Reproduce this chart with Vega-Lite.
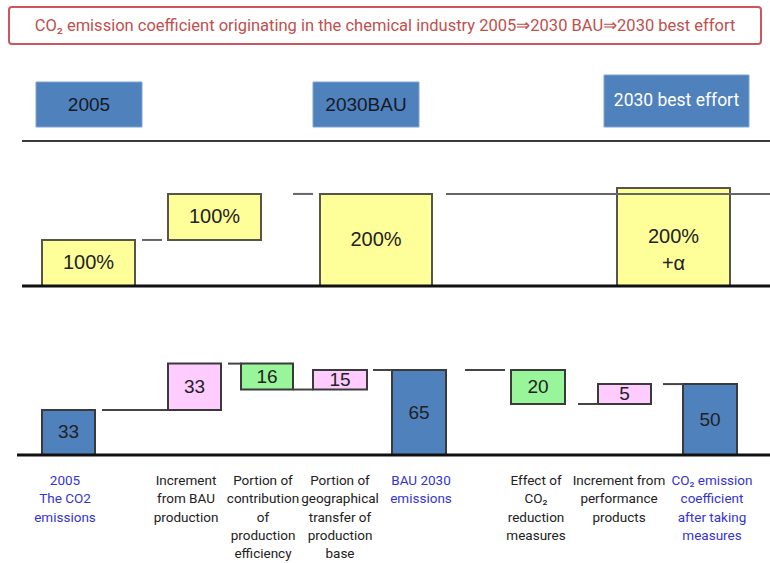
{
  "$schema": "https://vega.github.io/schema/vega-lite/v6.json",
  "background": "white",
  "padding": {"top": 6, "left": 0, "right": 0, "bottom": 0},
  "bounds": "flush",
  "spacing": 0,
  "center": true,
  "config": {"view": {"stroke": null}, "font": "Liberation Sans"},
  "datasets": {
    "headers": [
      {"name": "2005", "x0": 36, "x1": 142, "h0": 14, "h1": 59},
      {"name": "2030BAU", "x0": 313, "x1": 419, "h0": 14, "h1": 59},
      {"name": "2030 best effort", "x0": 604, "x1": 749, "h0": 14, "h1": 66}
    ],
    "top": [
      {"step": "2005", "x0": 42, "x1": 135, "y0": 0, "y1": 100, "label": "100%"},
      {"step": "Increment", "x0": 168, "x1": 261, "y0": 100, "y1": 200, "label": "100%"},
      {"step": "2030 BAU", "x0": 320, "x1": 432, "y0": 0, "y1": 200, "label": "200%"},
      {"step": "2030 best effort", "x0": 617, "x1": 730, "y0": 0, "y1": 213, "label": "200%\n+α"}
    ],
    "topLinks": [
      {"x0": 142, "x1": 162, "y": 100},
      {"x0": 293, "x1": 313, "y": 200},
      {"x0": 446, "x1": 770, "y": 200}
    ],
    "bottom": [
      {"step": "2005", "x0": 42, "x1": 95, "y0": 0, "y1": 33, "label": "33", "kind": "total"},
      {"step": "Increment from BAU production", "x0": 168, "x1": 221, "y0": 33, "y1": 67, "label": "33", "kind": "increase"},
      {"step": "Production efficiency", "x0": 241, "x1": 293, "y0": 48, "y1": 67, "label": "16", "kind": "decrease"},
      {"step": "Geographical transfer", "x0": 313, "x1": 367, "y0": 48, "y1": 62.3, "label": "15", "kind": "increase"},
      {"step": "BAU 2030", "x0": 392, "x1": 446, "y0": 0, "y1": 62.3, "label": "65", "kind": "total"},
      {"step": "CO2 reduction measures", "x0": 511, "x1": 565, "y0": 37.4, "y1": 62.3, "label": "20", "kind": "decrease"},
      {"step": "Performance products", "x0": 598, "x1": 651, "y0": 37.4, "y1": 52, "label": "5", "kind": "increase"},
      {"step": "After measures", "x0": 683, "x1": 737, "y0": 0, "y1": 52, "label": "50", "kind": "total"}
    ],
    "bottomLinks": [
      {"x0": 102, "x1": 167, "y": 33},
      {"x0": 228, "x1": 241, "y": 67},
      {"x0": 293, "x1": 313, "y": 48},
      {"x0": 373, "x1": 392, "y": 62.3},
      {"x0": 465, "x1": 505, "y": 62.3},
      {"x0": 578, "x1": 598, "y": 37.4},
      {"x0": 663, "x1": 683, "y": 52}
    ],
    "labels": [
      {"col": 65, "line": 1, "text": "2005", "group": "total"},
      {"col": 65, "line": 2, "text": "The CO2", "group": "total"},
      {"col": 65, "line": 3, "text": "emissions", "group": "total"},
      {"col": 186, "line": 1, "text": "Increment", "group": "change"},
      {"col": 186, "line": 2, "text": "from BAU", "group": "change"},
      {"col": 186, "line": 3, "text": "production", "group": "change"},
      {"col": 263, "line": 1, "text": "Portion of", "group": "change"},
      {"col": 263, "line": 2, "text": "contribution", "group": "change"},
      {"col": 263, "line": 3, "text": "of", "group": "change"},
      {"col": 263, "line": 4, "text": "production", "group": "change"},
      {"col": 263, "line": 5, "text": "efficiency", "group": "change"},
      {"col": 340, "line": 1, "text": "Portion of", "group": "change"},
      {"col": 340, "line": 2, "text": "geographical", "group": "change"},
      {"col": 340, "line": 3, "text": "transfer of", "group": "change"},
      {"col": 340, "line": 4, "text": "production", "group": "change"},
      {"col": 340, "line": 5, "text": "base", "group": "change"},
      {"col": 421, "line": 1, "text": "BAU 2030", "group": "total"},
      {"col": 421, "line": 2, "text": "emissions", "group": "total"},
      {"col": 536, "line": 1, "text": "Effect of", "group": "change"},
      {"col": 536, "line": 2, "text": "CO₂", "group": "change"},
      {"col": 536, "line": 3, "text": "reduction", "group": "change"},
      {"col": 536, "line": 4, "text": "measures", "group": "change"},
      {"col": 619, "line": 1, "text": "Increment from", "group": "change"},
      {"col": 619, "line": 2, "text": "performance", "group": "change"},
      {"col": 619, "line": 3, "text": "products", "group": "change"},
      {"col": 712, "line": 1, "text": "CO₂ emission", "group": "total"},
      {"col": 712, "line": 2, "text": "coefficient", "group": "total"},
      {"col": 712, "line": 3, "text": "after taking", "group": "total"},
      {"col": 712, "line": 4, "text": "measures", "group": "total"}
    ]
  },
  "vconcat": [
    {
      "width": 752,
      "height": 37,
      "view": {"stroke": "#c9575b", "strokeWidth": 2, "cornerRadius": 3},
      "data": {"values": [{"title": "CO₂ emission coefficient originating in the chemical industry 2005⇒2030 BAU⇒2030 best effort"}]},
      "mark": {"type": "text", "font": "Roboto", "fontSize": 16.5, "color": "#c0504d"},
      "encoding": {"text": {"field": "title"}}
    },
    {
      "width": 770,
      "height": 97,
      "layer": [
        {
          "data": {"name": "headers"},
          "mark": {"type": "rect", "fill": "#4f81bd", "stroke": "#7ea3d3", "strokeWidth": 1},
          "encoding": {
            "x": {"field": "x0", "type": "quantitative", "scale": {"domain": [0, 770], "nice": false, "zero": false}, "axis": null},
            "x2": {"field": "x1"},
            "y": {"field": "h0", "type": "quantitative", "scale": {"domain": [0, 97], "nice": false, "zero": false}, "axis": null},
            "y2": {"field": "h1"}
          }
        },
        {
          "data": {"name": "headers"},
          "transform": [
            {"filter": "datum.name !== '2030 best effort'"},
            {"fold": ["x0", "x1"], "as": ["kx", "vx"]},
            {"fold": ["h0", "h1"], "as": ["ky", "vy"]}
          ],
          "mark": {"type": "text", "fontSize": 19, "color": "#161a26"},
          "encoding": {
            "x": {"aggregate": "mean", "field": "vx", "type": "quantitative", "scale": {"domain": [0, 770], "nice": false, "zero": false}, "axis": null},
            "y": {"aggregate": "mean", "field": "vy", "type": "quantitative", "scale": {"domain": [0, 97], "nice": false, "zero": false}, "axis": null},
            "text": {"field": "name"}
          }
        },
        {
          "data": {"name": "headers"},
          "transform": [
            {"filter": "datum.name === '2030 best effort'"},
            {"fold": ["x0", "x1"], "as": ["kx", "vx"]},
            {"fold": ["h0", "h1"], "as": ["ky", "vy"]}
          ],
          "mark": {"type": "text", "font": "Roboto", "fontSize": 17.5, "color": "white"},
          "encoding": {
            "x": {"aggregate": "mean", "field": "vx", "type": "quantitative", "scale": {"domain": [0, 770], "nice": false, "zero": false}, "axis": null},
            "y": {"aggregate": "mean", "field": "vy", "type": "quantitative", "scale": {"domain": [0, 97], "nice": false, "zero": false}, "axis": null},
            "text": {"field": "name"}
          }
        },
        {
          "data": {"values": [{"x0": 22, "x1": 770, "y": 0}]},
          "mark": {"type": "rule", "color": "#3a3a3a", "strokeWidth": 2},
          "encoding": {
            "x": {"field": "x0", "type": "quantitative", "scale": {"domain": [0, 770], "nice": false, "zero": false}, "axis": null},
            "x2": {"field": "x1"},
            "y": {"field": "y", "type": "quantitative", "scale": {"domain": [0, 97], "nice": false, "zero": false}, "axis": null}
          }
        }
      ]
    },
    {
      "width": 770,
      "height": 145,
      "layer": [
        {
          "data": {"name": "top"},
          "mark": {"type": "rect", "fill": "#ffff99", "stroke": "#555548", "strokeWidth": 2},
          "encoding": {
            "x": {"field": "x0", "type": "quantitative", "scale": {"domain": [0, 770], "nice": false, "zero": false}, "axis": null},
            "x2": {"field": "x1"},
            "y": {"field": "y0", "type": "quantitative", "scale": {"domain": [0, 315], "nice": false, "zero": false}, "axis": null},
            "y2": {"field": "y1"}
          }
        },
        {
          "data": {"name": "topLinks"},
          "mark": {"type": "rule", "color": "#666666", "strokeWidth": 2},
          "encoding": {
            "x": {"field": "x0", "type": "quantitative", "scale": {"domain": [0, 770], "nice": false, "zero": false}, "axis": null},
            "x2": {"field": "x1"},
            "y": {"field": "y", "type": "quantitative", "scale": {"domain": [0, 315], "nice": false, "zero": false}, "axis": null}
          }
        },
        {
          "data": {"values": [{"x0": 22, "x1": 770, "y": 0}]},
          "mark": {"type": "rule", "color": "#111111", "strokeWidth": 3},
          "encoding": {
            "x": {"field": "x0", "type": "quantitative", "scale": {"domain": [0, 770], "nice": false, "zero": false}, "axis": null},
            "x2": {"field": "x1"},
            "y": {"field": "y", "type": "quantitative", "scale": {"domain": [0, 315], "nice": false, "zero": false}, "axis": null}
          }
        },
        {
          "data": {"name": "top"},
          "transform": [
            {"fold": ["x0", "x1"], "as": ["kx", "vx"]},
            {"fold": ["y0", "y1"], "as": ["ky", "vy"]}
          ],
          "mark": {"type": "text", "fontSize": 20, "color": "#222222", "lineBreak": "\n", "lineHeight": 27},
          "encoding": {
            "x": {"aggregate": "mean", "field": "vx", "type": "quantitative", "scale": {"domain": [0, 770], "nice": false, "zero": false}, "axis": null},
            "y": {"aggregate": "mean", "field": "vy", "type": "quantitative", "scale": {"domain": [0, 315], "nice": false, "zero": false}, "axis": null},
            "text": {"field": "label"},
            "detail": {"field": "step"}
          }
        }
      ]
    },
    {
      "width": 770,
      "height": 169,
      "layer": [
        {
          "data": {"name": "bottom"},
          "mark": {"type": "rect", "stroke": "#3a3a3a", "strokeWidth": 2},
          "encoding": {
            "x": {"field": "x0", "type": "quantitative", "scale": {"domain": [0, 770], "nice": false, "zero": false}, "axis": null},
            "x2": {"field": "x1"},
            "y": {"field": "y0", "type": "quantitative", "scale": {"domain": [0, 123.9], "nice": false, "zero": false}, "axis": null},
            "y2": {"field": "y1"},
            "fill": {"field": "kind", "type": "nominal", "scale": {"domain": ["total", "increase", "decrease"], "range": ["#4f81bd", "#ffccff", "#99f599"]}, "legend": null}
          }
        },
        {
          "data": {"name": "bottomLinks"},
          "mark": {"type": "rule", "color": "#444444", "strokeWidth": 2},
          "encoding": {
            "x": {"field": "x0", "type": "quantitative", "scale": {"domain": [0, 770], "nice": false, "zero": false}, "axis": null},
            "x2": {"field": "x1"},
            "y": {"field": "y", "type": "quantitative", "scale": {"domain": [0, 123.9], "nice": false, "zero": false}, "axis": null}
          }
        },
        {
          "data": {"values": [{"x0": 17, "x1": 770, "y": 0}]},
          "mark": {"type": "rule", "color": "#111111", "strokeWidth": 3},
          "encoding": {
            "x": {"field": "x0", "type": "quantitative", "scale": {"domain": [0, 770], "nice": false, "zero": false}, "axis": null},
            "x2": {"field": "x1"},
            "y": {"field": "y", "type": "quantitative", "scale": {"domain": [0, 123.9], "nice": false, "zero": false}, "axis": null}
          }
        },
        {
          "data": {"name": "bottom"},
          "transform": [
            {"fold": ["x0", "x1"], "as": ["kx", "vx"]},
            {"fold": ["y0", "y1"], "as": ["ky", "vy"]}
          ],
          "mark": {"type": "text", "fontSize": 19, "color": "#222222"},
          "encoding": {
            "x": {"aggregate": "mean", "field": "vx", "type": "quantitative", "scale": {"domain": [0, 770], "nice": false, "zero": false}, "axis": null},
            "y": {"aggregate": "mean", "field": "vy", "type": "quantitative", "scale": {"domain": [0, 123.9], "nice": false, "zero": false}, "axis": null},
            "text": {"field": "label"},
            "detail": {"field": "step"}
          }
        }
      ]
    },
    {
      "width": 770,
      "height": 109,
      "data": {"name": "labels"},
      "mark": {"type": "text", "font": "Roboto", "fontSize": 13.5},
      "encoding": {
        "x": {"field": "col", "type": "quantitative", "scale": {"domain": [0, 770], "nice": false, "zero": false}, "axis": null},
        "y": {"field": "line", "type": "quantitative", "scale": {"domain": [-0.421, 5.535], "reverse": true, "nice": false, "zero": false}, "axis": null},
        "text": {"field": "text"},
        "color": {"field": "group", "type": "nominal", "scale": {"domain": ["total", "change"], "range": ["#3434d4", "#222222"]}, "legend": null}
      }
    }
  ]
}
